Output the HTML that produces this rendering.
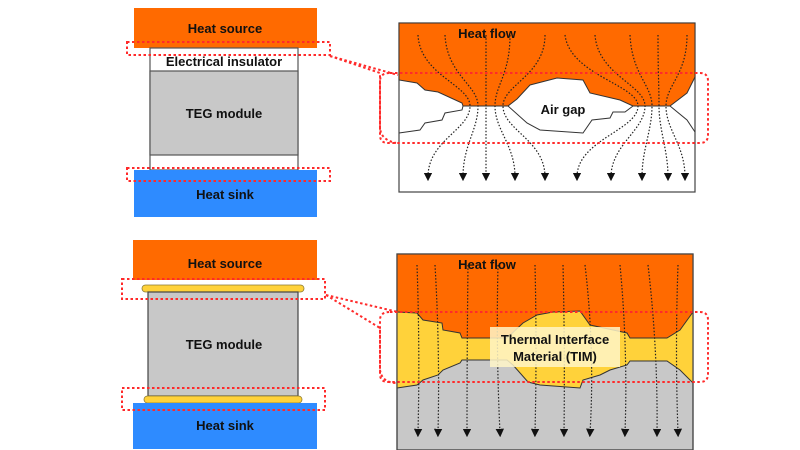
<!DOCTYPE html>
<html><head><meta charset="utf-8"><style>
html,body{margin:0;padding:0;background:#fff;width:800px;height:450px;overflow:hidden}
svg{display:block}
text{font-family:"Liberation Sans",sans-serif;font-weight:bold;font-size:13px;fill:#111}
</style></head><body>
<svg width="800" height="450" viewBox="0 0 800 450" xmlns="http://www.w3.org/2000/svg">
<defs>
<marker id="ah" markerWidth="6" markerHeight="6" refX="3" refY="5" orient="auto-start-reverse" markerUnits="userSpaceOnUse">
<path d="M0,0 L6,0 L3,6 Z" fill="#111" transform="rotate(0)"/>
</marker>
<marker id="a2" viewBox="0 0 8 8" markerWidth="7" markerHeight="7" refX="4" refY="4" orient="auto">
<path d="M0,0 L8,4 L0,8 Z" fill="#111"/>
</marker>
</defs>

<!-- TOP LEFT -->
<rect x="134" y="8" width="183" height="40" fill="#ff6a00"/>
<text x="225" y="33" text-anchor="middle">Heat source</text>
<rect x="150" y="48" width="148" height="122" fill="#fff" stroke="#555" stroke-width="1.2"/>
<rect x="150" y="71" width="148" height="84" fill="#c8c8c8" stroke="#555" stroke-width="1.2"/>
<text x="224" y="66" text-anchor="middle">Electrical insulator</text>
<text x="224" y="118" text-anchor="middle">TEG module</text>
<rect x="134" y="170" width="183" height="47" fill="#2e8bff"/>
<text x="225" y="199" text-anchor="middle">Heat sink</text>
<g fill="none" stroke="#ff2a2a" stroke-width="2" stroke-dasharray="2.5,2.5">
<rect x="127" y="42" width="203" height="13"/>
<rect x="127" y="168" width="203" height="13"/>
<path d="M330,56 L398,75"/>
<path d="M330,56 L380,73 L380,128 Q381,140 396,143"/>
</g>

<!-- TOP RIGHT -->
<rect x="399" y="23" width="296" height="169" fill="#fff" stroke="#444" stroke-width="1.2"/>
<path d="M399,23 L695,23 L695,77 L687,93 L670,106 L633,106 L620,100 L590,93 L583,80 L557,78 L530,85 L517,99 L508,106 L463,106 L462,103 L438,92 L425,90 L417,83 L399,80 Z" fill="#ff6a00" stroke="#333" stroke-width="1"/>
<path d="M399,133 L420,130 L425,123 L442,120 L445,113 L462,110 L463,106" fill="none" stroke="#333" stroke-width="1"/>
<path d="M508,106 L527,123 L540,130 L583,133 L592,120 L610,118 L613,112 L625,112 L633,106" fill="none" stroke="#333" stroke-width="1"/>
<path d="M670,106 L687,120 L695,132" fill="none" stroke="#333" stroke-width="1"/>
<text x="487" y="38" text-anchor="middle">Heat flow</text>
<text x="563" y="114" text-anchor="middle">Air gap</text>
<g fill="none" stroke="#222" stroke-width="1.2" stroke-dasharray="1.5,1.8" marker-end="url(#a2)">
<path d="M418,35 C420,75 470,85 470,106 C470,130 428,140 428,177"/>
<path d="M445,35 C447,75 478,85 478,106 C478,130 463,145 463,177"/>
<path d="M486,35 L486,177"/>
<path d="M510,35 C510,75 495,85 495,106 C495,130 515,145 515,177"/>
<path d="M545,35 C545,75 503,85 503,106 C503,130 545,140 545,177"/>
<path d="M565,35 C570,75 638,85 638,106 C638,130 577,140 577,177"/>
<path d="M595,35 C598,75 645,85 645,106 C645,130 611,145 611,177"/>
<path d="M630,35 C632,75 652,85 652,106 C652,130 642,150 642,177"/>
<path d="M658,35 C658,75 659,85 659,106 C659,130 668,150 668,177"/>
<path d="M687,35 C687,75 666,85 666,106 C666,130 685,145 685,177"/>
</g>
<path d="M390,73 L700,73 Q708,73 708,81 L708,135 Q708,143 700,143 L388,143 Q380,143 380,135 L380,81 Q380,73 390,73 Z" fill="none" stroke="#ff2a2a" stroke-width="2" stroke-dasharray="2.5,2.5"/>

<!-- BOTTOM LEFT -->
<rect x="133" y="240" width="184" height="40" fill="#ff6a00"/>
<text x="225" y="268" text-anchor="middle">Heat source</text>
<rect x="142" y="285" width="162" height="7" rx="3.5" fill="#ffd23a" stroke="#8a7a30" stroke-width="0.8"/>
<rect x="148" y="292" width="150" height="104" fill="#c8c8c8" stroke="#444" stroke-width="1.2"/>
<text x="224" y="349" text-anchor="middle">TEG module</text>
<rect x="144" y="396" width="158" height="7" rx="3.5" fill="#ffd23a" stroke="#8a7a30" stroke-width="0.8"/>
<rect x="133" y="403" width="184" height="46" fill="#2e8bff"/>
<text x="225" y="430" text-anchor="middle">Heat sink</text>
<g fill="none" stroke="#ff2a2a" stroke-width="2" stroke-dasharray="2.5,2.5">
<rect x="122" y="279" width="203" height="20"/>
<rect x="122" y="388" width="203" height="22"/>
<path d="M326,295 L398,312"/>
<path d="M326,295 L380,328 L380,370 Q382,383 397,383"/>
</g>

<!-- BOTTOM RIGHT -->
<rect x="397" y="254" width="296" height="196" fill="#c8c8c8" stroke="#444" stroke-width="1.2"/>
<path d="M397,312 L397,388 L417,385 L423,380 L438,375 L443,370 L460,363 L462,360 L507,360 L513,365 L528,382 L540,385 L580,388 L583,380 L600,375 L610,370 L627,365 L630,361 L667,361 L680,370 L693,383 L693,312 Z" fill="#ffd23a"/>
<path d="M397,388 L417,385 L423,380 L438,375 L443,370 L460,363 L462,360 L507,360 L513,365 L528,382 L540,385 L580,388 L583,380 L600,375 L610,370 L627,365 L630,361 L667,361 L680,370 L693,383" fill="none" stroke="#333" stroke-width="1"/>
<path d="M397,254 L693,254 L693,312 L680,330 L667,338 L630,338 L627,333 L590,325 L580,311 L553,312 L537,315 L523,323 L507,338 L462,338 L460,333 L443,330 L442,323 L423,320 L417,313 L397,312 Z" fill="#ff6a00" stroke="#333" stroke-width="1"/>
<rect x="397" y="254" width="296" height="196" fill="none" stroke="#444" stroke-width="1.2"/>
<text x="487" y="269" text-anchor="middle">Heat flow</text>
<g fill="none" stroke="#222" stroke-width="1.2" stroke-dasharray="1.5,1.8" marker-end="url(#a2)">
<path d="M417,265 Q420,350 418,433"/>
<path d="M435,265 Q440,350 438,433"/>
<path d="M468,265 Q467,350 467,433"/>
<path d="M498,265 Q496,350 500,433"/>
<path d="M535,265 Q537,350 535,433"/>
<path d="M563,265 Q565,350 564,433"/>
<path d="M585,265 Q595,350 590,433"/>
<path d="M620,265 Q628,350 625,433"/>
<path d="M648,265 Q658,350 657,433"/>
<path d="M678,265 Q675,350 678,433"/>
</g>
<rect x="490" y="327" width="130" height="40" fill="#fff6c8" fill-opacity="0.85"/>
<text x="555" y="344" text-anchor="middle">Thermal Interface</text>
<text x="555" y="361" text-anchor="middle">Material (TIM)</text>
<path d="M390,312 L700,312 Q708,312 708,320 L708,374 Q708,382 700,382 L388,382 Q380,382 380,374 L380,320 Q380,312 390,312 Z" fill="none" stroke="#ff2a2a" stroke-width="2" stroke-dasharray="2.5,2.5"/>
</svg>
</body></html>
